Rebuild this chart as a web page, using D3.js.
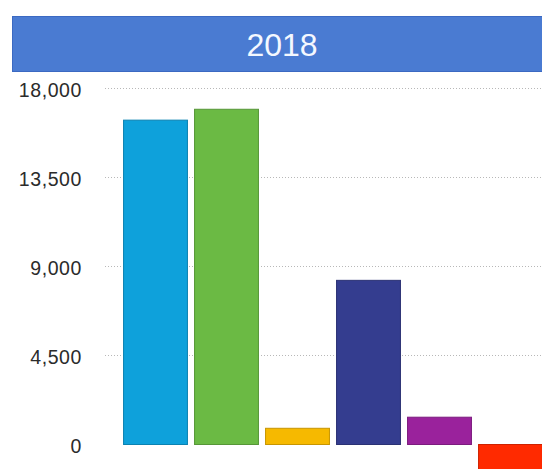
<!DOCTYPE html>
<html>
<head>
<meta charset="utf-8">
<script src="https://cdn.jsdelivr.net/npm/d3@7"></script>
<style>
  html, body { margin: 0; padding: 0; background: #fff; overflow: hidden; }
  svg { display: block; }
</style>
</head>
<body>
<svg id="chart"></svg>
<script>
// DATA
const title = "2018";
const categories = ["A", "B", "C", "D", "E", "F"];
const values = [16400, 16950, 820, 8300, 1380, -1500];
const colors = ["#0ea1db", "#6bba44", "#f6b900", "#343d8f", "#9a229c", "#ff2a00"];
const tickValues = [0, 4500, 9000, 13500, 18000];

// DIMENSIONS
const dims = { width: 542, height: 469 };

const svg = d3.select("#chart")
  .attr("width", dims.width)
  .attr("height", dims.height);

// SCALES
const x = d3.scaleBand()
  .domain(categories)
  .range([120, 120 + categories.length * 71])
  .paddingInner(0.1)
  .paddingOuter(0.05);

const y = d3.scaleLinear()
  .domain([0, 18000])
  .range([444.5, 88.5]);

// HEADER BAR
svg.append("rect")
  .attr("x", 12.5)
  .attr("y", 16.5)
  .attr("width", 540)
  .attr("height", 55)
  .attr("fill", "#4a7bd2")
  .attr("stroke", "#3b69c2")
  .attr("stroke-width", 1);

svg.append("text")
  .attr("x", 282)
  .attr("y", 44)
  .attr("dy", "0.36em")
  .attr("text-anchor", "middle")
  .attr("fill", "#f4f8ff")
  .attr("font-family", "Liberation Sans, Arial, sans-serif")
  .attr("font-size", 32)
  .text(title);

// GRID + AXIS
const yAxis = d3.axisLeft(y)
  .tickValues(tickValues)
  .tickFormat(d3.format(","))
  .tickSize(0)
  .tickPadding(0);

const axisG = svg.append("g")
  .attr("transform", "translate(82,0)")
  .call(yAxis);

axisG.select(".domain").remove();
axisG.selectAll("text")
  .attr("fill", "#2b2b2b")
  .attr("font-family", "Liberation Sans, Arial, sans-serif")
  .attr("font-size", 19.5)
  .attr("letter-spacing", 0.6)
  .attr("dy", "0.42em");

svg.append("g")
  .selectAll("line")
  .data(tickValues.filter((d) => d > 0))
  .join("line")
  .attr("x1", 105)
  .attr("x2", dims.width)
  .attr("y1", (d) => y(d))
  .attr("y2", (d) => y(d))
  .attr("stroke", "#b8b8b8")
  .attr("stroke-width", 1)
  .attr("stroke-dasharray", "1,2");

// BARS
svg.append("g")
  .selectAll("rect")
  .data(values)
  .join("rect")
  .attr("x", (d, i) => x(categories[i]))
  .attr("width", x.bandwidth())
  .attr("y", (d) => y(Math.max(0, d)))
  .attr("height", (d) => Math.abs(y(d) - y(0)))
  .attr("fill", (d, i) => colors[i])
  .attr("stroke", (d, i) => d3.color(colors[i]).darker(0.6))
  .attr("stroke-width", 1);
</script>
</body>
</html>
